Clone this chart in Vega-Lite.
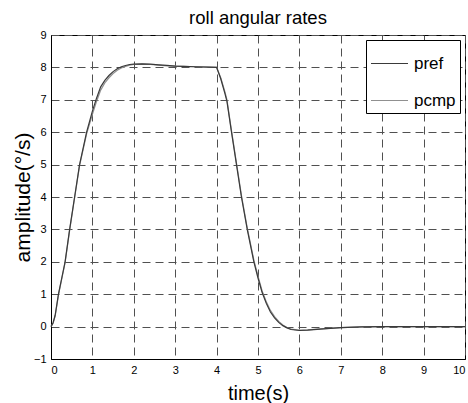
{
  "$schema": "https://vega.github.io/schema/vega-lite/v6.json",
  "autosize": {"type": "none"},
  "width": 414,
  "height": 324,
  "padding": {"left": 51, "top": 35, "right": 3, "bottom": 44},
  "background": "white",
  "title": {"text": "roll angular rates", "font": "Liberation Sans", "fontSize": 18.5, "fontWeight": "normal", "color": "black", "offset": 2, "anchor": "middle", "frame": "group"},
  "config": {
    "view": {"stroke": "black", "strokeWidth": 1},
    "axis": {"labelFont": "Liberation Sans", "labelFontSize": 11, "labelColor": "black", "titleFont": "Liberation Sans", "titleFontWeight": "normal", "titleColor": "black", "domainColor": "black", "ticks": false, "gridColor": "#505050", "gridDash": [8, 5], "gridWidth": 1, "gridOpacity": 1}
  },
  "datasets": {
    "rates": [
      {"t": 0, "v": 0, "s": "p_ref"}, {"t": 0.05, "v": 0.12, "s": "p_ref"}, {"t": 0.1, "v": 0.35, "s": "p_ref"}, {"t": 0.18, "v": 1.0, "s": "p_ref"}, {"t": 0.26, "v": 1.5, "s": "p_ref"}, {"t": 0.34, "v": 2.0, "s": "p_ref"}, {"t": 0.45, "v": 3.0, "s": "p_ref"}, {"t": 0.57, "v": 4.0, "s": "p_ref"}, {"t": 0.69, "v": 5.0, "s": "p_ref"}, {"t": 0.86, "v": 6.0, "s": "p_ref"}, {"t": 1.0, "v": 6.65, "s": "p_ref"}, {"t": 1.1, "v": 7.05, "s": "p_ref"}, {"t": 1.2, "v": 7.4, "s": "p_ref"}, {"t": 1.3, "v": 7.6, "s": "p_ref"}, {"t": 1.4, "v": 7.75, "s": "p_ref"}, {"t": 1.5, "v": 7.87, "s": "p_ref"}, {"t": 1.6, "v": 7.96, "s": "p_ref"}, {"t": 1.7, "v": 8.02, "s": "p_ref"}, {"t": 1.8, "v": 8.06, "s": "p_ref"}, {"t": 1.9, "v": 8.09, "s": "p_ref"}, {"t": 2.0, "v": 8.1, "s": "p_ref"}, {"t": 2.2, "v": 8.11, "s": "p_ref"}, {"t": 2.4, "v": 8.1, "s": "p_ref"}, {"t": 2.6, "v": 8.08, "s": "p_ref"}, {"t": 2.8, "v": 8.06, "s": "p_ref"}, {"t": 3.0, "v": 8.04, "s": "p_ref"}, {"t": 3.2, "v": 8.03, "s": "p_ref"}, {"t": 3.5, "v": 8.02, "s": "p_ref"}, {"t": 3.8, "v": 8.01, "s": "p_ref"}, {"t": 4.0, "v": 8.0, "s": "p_ref"}, {"t": 4.1, "v": 7.65, "s": "p_ref"}, {"t": 4.2, "v": 7.2, "s": "p_ref"}, {"t": 4.25, "v": 6.95, "s": "p_ref"}, {"t": 4.36, "v": 6.0, "s": "p_ref"}, {"t": 4.48, "v": 5.0, "s": "p_ref"}, {"t": 4.6, "v": 4.0, "s": "p_ref"}, {"t": 4.74, "v": 3.0, "s": "p_ref"}, {"t": 4.9, "v": 2.0, "s": "p_ref"}, {"t": 5.0, "v": 1.5, "s": "p_ref"}, {"t": 5.1, "v": 1.05, "s": "p_ref"}, {"t": 5.2, "v": 0.72, "s": "p_ref"}, {"t": 5.3, "v": 0.45, "s": "p_ref"}, {"t": 5.4, "v": 0.27, "s": "p_ref"}, {"t": 5.5, "v": 0.13, "s": "p_ref"}, {"t": 5.6, "v": 0.03, "s": "p_ref"}, {"t": 5.7, "v": -0.04, "s": "p_ref"}, {"t": 5.8, "v": -0.09, "s": "p_ref"}, {"t": 6.0, "v": -0.12, "s": "p_ref"}, {"t": 6.2, "v": -0.11, "s": "p_ref"}, {"t": 6.5, "v": -0.08, "s": "p_ref"}, {"t": 7.0, "v": -0.03, "s": "p_ref"}, {"t": 7.5, "v": -0.01, "s": "p_ref"}, {"t": 8.0, "v": 0, "s": "p_ref"}, {"t": 9.0, "v": 0, "s": "p_ref"}, {"t": 10.0, "v": 0, "s": "p_ref"},
      {"t": 0, "v": 0, "s": "p_cmp"}, {"t": 0.05, "v": 0.1, "s": "p_cmp"}, {"t": 0.1, "v": 0.32, "s": "p_cmp"}, {"t": 0.18, "v": 0.97, "s": "p_cmp"}, {"t": 0.26, "v": 1.47, "s": "p_cmp"}, {"t": 0.34, "v": 1.97, "s": "p_cmp"}, {"t": 0.45, "v": 2.97, "s": "p_cmp"}, {"t": 0.57, "v": 3.97, "s": "p_cmp"}, {"t": 0.69, "v": 4.97, "s": "p_cmp"}, {"t": 0.86, "v": 5.95, "s": "p_cmp"}, {"t": 1.0, "v": 6.55, "s": "p_cmp"}, {"t": 1.1, "v": 6.95, "s": "p_cmp"}, {"t": 1.2, "v": 7.3, "s": "p_cmp"}, {"t": 1.3, "v": 7.52, "s": "p_cmp"}, {"t": 1.4, "v": 7.68, "s": "p_cmp"}, {"t": 1.5, "v": 7.81, "s": "p_cmp"}, {"t": 1.6, "v": 7.91, "s": "p_cmp"}, {"t": 1.7, "v": 7.98, "s": "p_cmp"}, {"t": 1.8, "v": 8.03, "s": "p_cmp"}, {"t": 1.9, "v": 8.07, "s": "p_cmp"}, {"t": 2.0, "v": 8.09, "s": "p_cmp"}, {"t": 2.2, "v": 8.1, "s": "p_cmp"}, {"t": 2.4, "v": 8.09, "s": "p_cmp"}, {"t": 2.6, "v": 8.07, "s": "p_cmp"}, {"t": 2.8, "v": 8.05, "s": "p_cmp"}, {"t": 3.0, "v": 8.04, "s": "p_cmp"}, {"t": 3.2, "v": 8.03, "s": "p_cmp"}, {"t": 3.5, "v": 8.02, "s": "p_cmp"}, {"t": 3.8, "v": 8.01, "s": "p_cmp"}, {"t": 4.0, "v": 8.0, "s": "p_cmp"}, {"t": 4.1, "v": 7.68, "s": "p_cmp"}, {"t": 4.2, "v": 7.25, "s": "p_cmp"}, {"t": 4.25, "v": 7.0, "s": "p_cmp"}, {"t": 4.36, "v": 6.05, "s": "p_cmp"}, {"t": 4.48, "v": 5.05, "s": "p_cmp"}, {"t": 4.6, "v": 4.05, "s": "p_cmp"}, {"t": 4.74, "v": 3.05, "s": "p_cmp"}, {"t": 4.9, "v": 2.05, "s": "p_cmp"}, {"t": 5.0, "v": 1.56, "s": "p_cmp"}, {"t": 5.1, "v": 1.1, "s": "p_cmp"}, {"t": 5.2, "v": 0.77, "s": "p_cmp"}, {"t": 5.3, "v": 0.5, "s": "p_cmp"}, {"t": 5.4, "v": 0.31, "s": "p_cmp"}, {"t": 5.5, "v": 0.16, "s": "p_cmp"}, {"t": 5.6, "v": 0.05, "s": "p_cmp"}, {"t": 5.7, "v": -0.03, "s": "p_cmp"}, {"t": 5.8, "v": -0.08, "s": "p_cmp"}, {"t": 6.0, "v": -0.11, "s": "p_cmp"}, {"t": 6.2, "v": -0.1, "s": "p_cmp"}, {"t": 6.5, "v": -0.07, "s": "p_cmp"}, {"t": 7.0, "v": -0.03, "s": "p_cmp"}, {"t": 7.5, "v": -0.01, "s": "p_cmp"}, {"t": 8.0, "v": 0, "s": "p_cmp"}, {"t": 9.0, "v": 0, "s": "p_cmp"}, {"t": 10.0, "v": 0, "s": "p_cmp"}
    ]
  },
  "data": {"name": "rates"},
  "encoding": {
    "x": {"field": "t", "type": "quantitative", "scale": {"domain": [0, 10], "nice": false}, "axis": {"title": "time(s)", "titleFontSize": 20, "values": [0,1,2,3,4,5,6,7,8,9,10], "grid": true, "labelPadding": 5, "titlePadding": 8}},
    "y": {"field": "v", "type": "quantitative", "scale": {"domain": [-1, 9], "nice": false}, "axis": {"title": "amplitude(°/s)", "titleFontSize": 21, "values": [-1,0,1,2,3,4,5,6,7,8,9], "grid": true, "labelPadding": 5, "titlePadding": 0}},
    "color": {"field": "s", "type": "nominal", "scale": {"domain": ["p_ref", "p_cmp"], "range": ["#3a3a3a", "#909090"]},
      "legend": {"title": null, "orient": "top-right", "offset": 5, "fillColor": "white", "strokeColor": "black", "padding": 4, "symbolType": "stroke", "symbolSize": 1369, "symbolStrokeWidth": 1.2, "labelFont": "Liberation Sans", "labelFontSize": 17, "labelColor": "black", "labelOffset": 5, "rowPadding": 9, "labelExpr": "datum.label == 'p_ref' ? 'pref' : 'pcmp'"}}
  },
  "layer": [
    {"transform": [{"filter": "datum.s == 'p_cmp'"}], "mark": {"type": "line", "strokeWidth": 1.2}},
    {"transform": [{"filter": "datum.s == 'p_ref'"}], "mark": {"type": "line", "strokeWidth": 1.2}}
  ]
}
